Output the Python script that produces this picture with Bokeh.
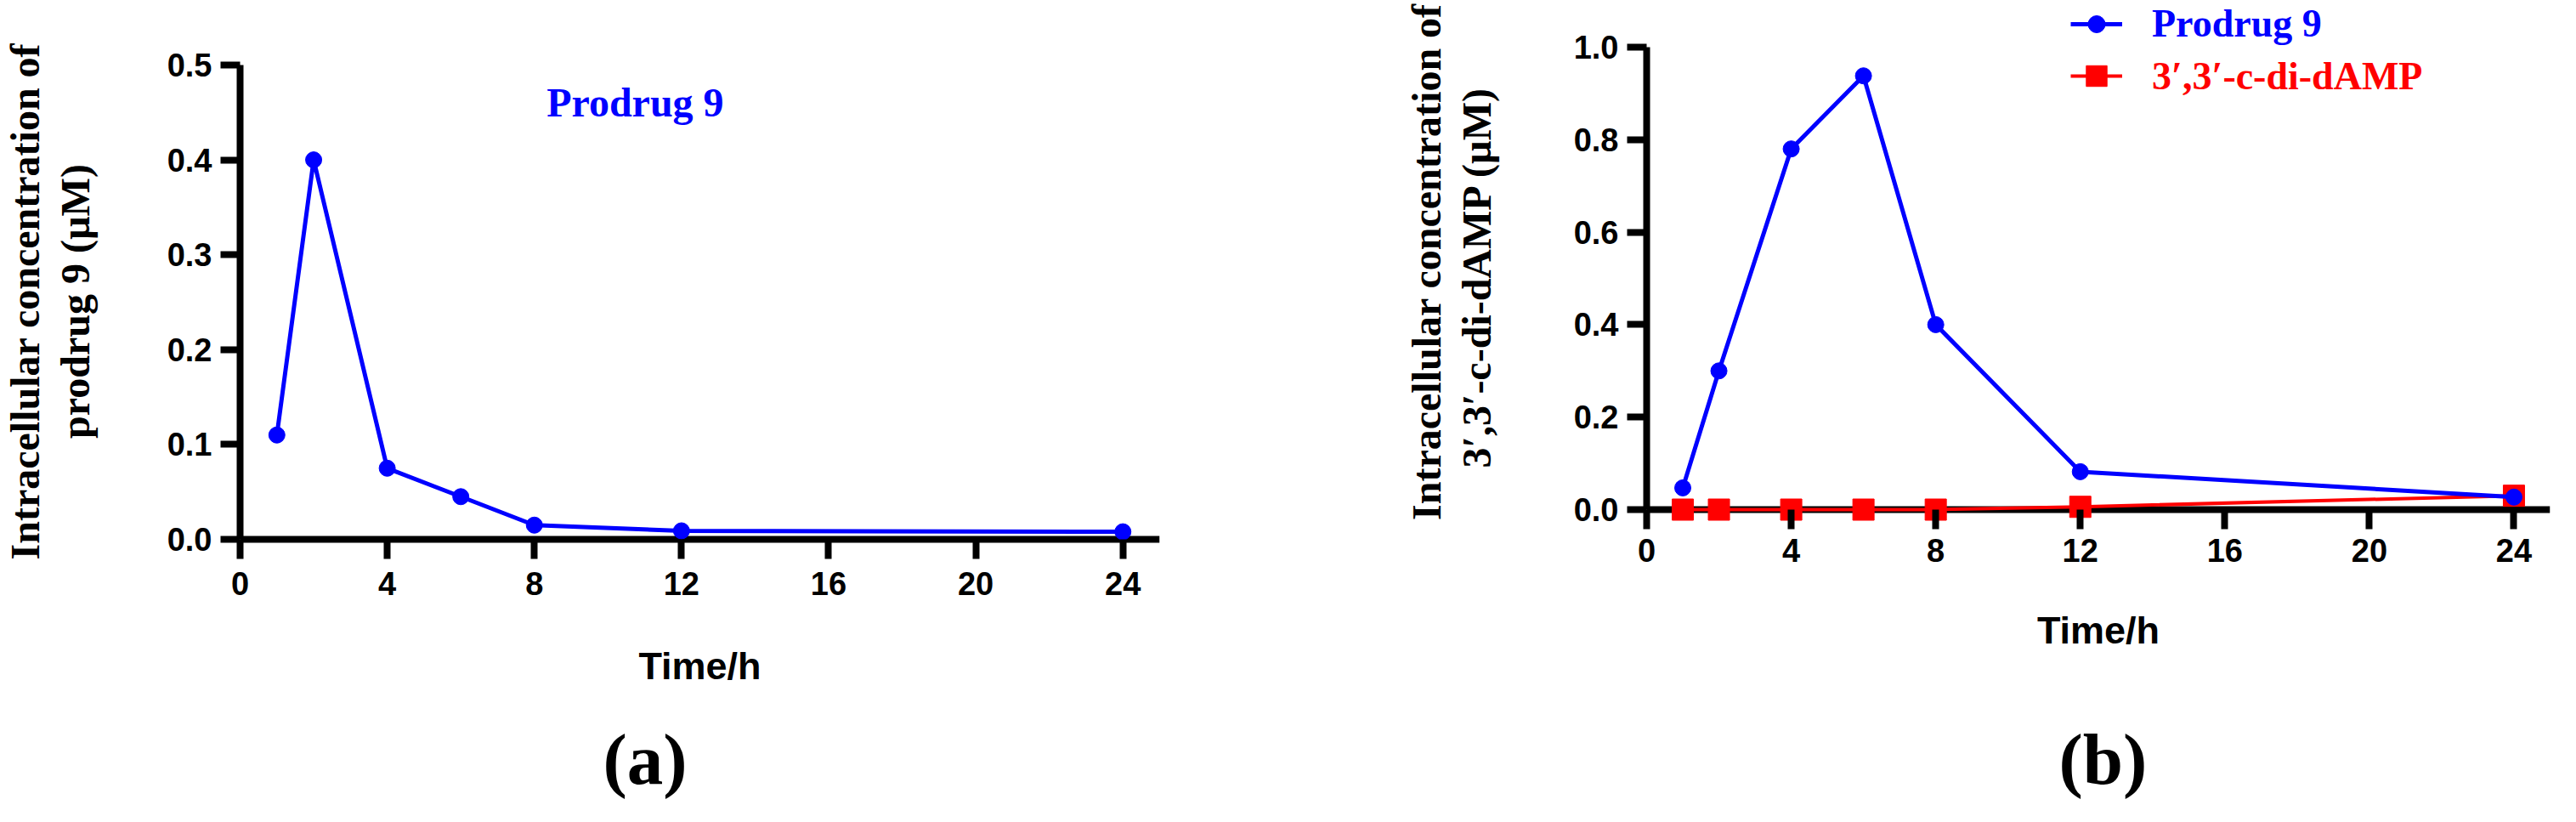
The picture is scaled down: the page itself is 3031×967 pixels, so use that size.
from bokeh.plotting import figure
from bokeh.layouts import row
from bokeh.models import (FixedTicker, NumeralTickFormatter, Span, Label, Legend,
                          LegendItem, Range1d, Title)
from bokeh.embed import file_html
from bokeh.resources import INLINE

# ---------------- data ----------------
time_h = [1, 2, 4, 6, 8, 12, 24]
prodrug9_a = [0.110, 0.400, 0.075, 0.045, 0.015, 0.009, 0.008]
prodrug9_b = [0.047, 0.300, 0.780, 0.938, 0.400, 0.082, 0.027]
cdidamp_b = [0.000, 0.000, 0.000, 0.000, 0.000, 0.006, 0.030]
x_ticks = [0, 4, 8, 12, 16, 20, 24]
y_ticks_a = [0.0, 0.1, 0.2, 0.3, 0.4, 0.5]
y_ticks_b = [0.0, 0.2, 0.4, 0.6, 0.8, 1.0]
series_names = ["Prodrug 9", "3\u2032,3\u2032-c-di-dAMP"]
x_title = "Time/h"
y_title_a = ["Intracellular concentration of", "prodrug 9 (\u00b5M)"]
y_title_b = ["Intracellular concentration of", "3\u2032,3\u2032-c-di-dAMP (\u00b5M)"]
panel_tags = ["(a)", "(b)"]

BLUE = "#0000FF"
RED = "#FF0000"
BLACK = "#000000"
SANS = "Liberation Sans"
SERIF = "Liberation Serif"
NBSP = "\u00a0"
H = 950          # figure height
PAD = 16         # frame pixels below y = 0
X_MAX = 25
PAGE = 8         # body margin


def make_panel(width, left, right, top_px, y0_px, ymax_px, y_max, y_ticks, y_title,
               lab_standoff, title_standoff, ytitle_standoff, title_pads=(0, 0)):
    """top_px: page row of the frame top; y0_px / ymax_px: rows of y = 0 and y = y_max."""
    ppu = (y0_px - ymax_px) / y_max
    bottom = H - (y0_px + PAD - PAGE)
    y_end = y_max + (ymax_px - top_px) / ppu
    p = figure(width=width, height=H, x_range=Range1d(0, X_MAX),
               y_range=Range1d(-PAD / ppu, y_end),
               min_border_left=left, min_border_right=right,
               min_border_top=top_px - PAGE, min_border_bottom=bottom,
               frame_align=False,
               output_backend="svg", toolbar_location=None)
    p.outline_line_color = None
    p.grid.visible = False
    p.background_fill_color = "white"
    p.border_fill_color = "white"

    xa = p.xaxis[0]
    xa.ticker = FixedTicker(ticks=x_ticks, minor_ticks=[])
    xa.formatter = NumeralTickFormatter(format="0")
    xa.axis_line_color = None
    xa.major_tick_in = PAD
    xa.major_tick_out = 7
    xa.major_tick_line_width = 8
    xa.major_tick_line_color = BLACK
    xa.minor_tick_line_color = None
    xa.major_label_text_font = SANS
    xa.major_label_text_font_size = "38px"
    xa.major_label_text_font_style = "bold"
    xa.major_label_text_color = BLACK
    xa.major_label_standoff = lab_standoff
    xa.axis_label = x_title
    xa.axis_label_text_font = SANS
    xa.axis_label_text_font_size = "45px"
    xa.axis_label_text_font_style = "bold"
    xa.axis_label_text_color = BLACK
    xa.axis_label_standoff = title_standoff

    ya = p.yaxis[0]
    ya.ticker = FixedTicker(ticks=y_ticks, minor_ticks=[])
    ya.formatter = NumeralTickFormatter(format="0.0")
    ya.bounds = (0, y_max)
    ya.axis_line_width = 8
    ya.axis_line_color = BLACK
    ya.major_tick_in = 0
    ya.major_tick_out = 23
    ya.major_tick_line_width = 8
    ya.major_tick_line_color = BLACK
    ya.minor_tick_line_color = None
    ya.major_label_text_font = SANS
    ya.major_label_text_font_size = "38px"
    ya.major_label_text_font_style = "bold"
    ya.major_label_text_color = BLACK
    ya.major_label_standoff = 10
    # trailing no-break spaces move a centred title line down along the axis
    ya.axis_label = "\n".join(line + NBSP * n for line, n in zip(y_title, title_pads))
    ya.axis_label_text_font = SERIF
    ya.axis_label_text_font_size = "48px"
    ya.axis_label_text_font_style = "bold"
    ya.axis_label_text_color = BLACK
    ya.axis_label_text_line_height = 1.1
    ya.axis_label_standoff = ytitle_standoff

    p.add_layout(Span(location=0, dimension="width", line_color=BLACK,
                      line_width=8, level="underlay"))
    frame_w = width - left - right
    return p, ppu, frame_w, bottom


def add_tag(p, tag, offset, gap):
    # empty spacer between the axis title and the panel tag
    p.add_layout(Title(text=" ", text_font_size="1px", standoff=gap), "below")
    p.add_layout(Title(text=tag, align="left", offset=offset, standoff=0,
                       vertical_align="top",
                       text_font=SERIF, text_font_style="bold",
                       text_font_size="85px", text_color=BLACK), "below")


# ---------------- panel (a) ----------------
WA, LA, RA = 1507, 277, 143
pa, ppu_a, fw_a, BA = make_panel(WA, LA, RA, 66, 642, 84, 0.5, y_ticks_a, y_title_a,
                                 15, 55, 79)

pa.line(time_h, prodrug9_a, line_color=BLUE, line_width=5)
pa.scatter(time_h, prodrug9_a, marker="circle", size=19, fill_color=BLUE, line_color=BLUE)

# in-plot series label (page-image position 752, 128)
lx = (752 - PAGE - LA) / (fw_a / X_MAX)
ly = (642 - 128) / ppu_a
pa.add_layout(Label(x=lx, y=ly, text=series_names[0], text_align="center",
                    text_baseline="middle", text_font=SERIF, text_font_style="bold",
                    text_font_size="48px", text_color=BLUE))
add_tag(pa, panel_tags[0], 712 - 285, 31)

# ---------------- panel (b) ----------------
WB, LB, RB = 1507, 430, 14
pb, ppu_b, fw_b, BB = make_panel(WB, LB, RB, PAGE, 607, 63, 1.0, y_ticks_b,
                                 y_title_b, 11, 52, 85, title_pads=(0, 3))

rl = pb.line(time_h, cdidamp_b, line_color=RED, line_width=4)
rs = pb.scatter(time_h, cdidamp_b, marker="square", size=25, fill_color=RED, line_color=RED)
bl = pb.line(time_h, prodrug9_b, line_color=BLUE, line_width=5)
bs = pb.scatter(time_h, prodrug9_b, marker="circle", size=19, fill_color=BLUE, line_color=BLUE)

frame_bottom_b = PAGE + H - BB
leg_x = 2444 - 1945
leg_common = dict(glyph_width=61, label_standoff=35, padding=0, margin=0,
                  border_line_color=None, background_fill_alpha=0,
                  label_text_font=SERIF, label_text_font_style="bold",
                  label_text_font_size="46px")
leg1 = Legend(items=[LegendItem(label=series_names[0], renderers=[bl, bs])],
              location=(leg_x, frame_bottom_b - 62), glyph_height=50,
              label_text_color=BLUE, **leg_common)
leg2 = Legend(items=[LegendItem(label=series_names[1], renderers=[rl, rs])],
              location=(leg_x, frame_bottom_b - 128), glyph_height=62,
              label_text_color=RED, **leg_common)
pb.add_layout(leg1)
pb.add_layout(leg2)

add_tag(pb, panel_tags[1], 2430 - 1945, 73)

layout = row(pa, pb)
open("out.html", "w").write(file_html(layout, INLINE))
